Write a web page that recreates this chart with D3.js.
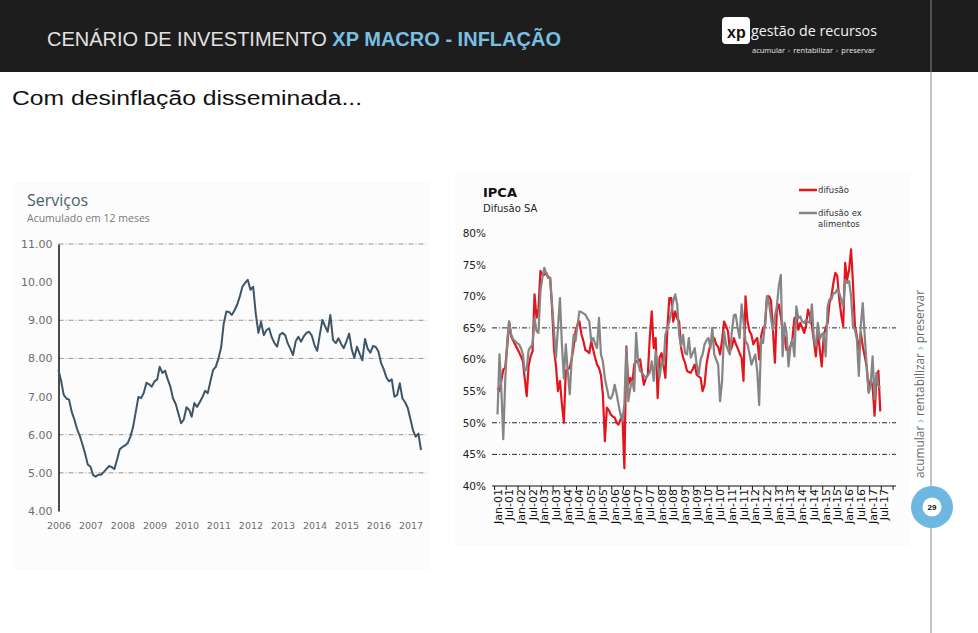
<!DOCTYPE html>
<html>
<head>
<meta charset="utf-8">
<script src="https://cdn.jsdelivr.net/npm/d3@7/dist/d3.min.js"></script>
<style>
  body { margin: 0; background: #fff; }
  svg { display: block; }
</style>
</head>
<body>
<svg id="chart"></svg>
<script>
const W = 978, H = 633;

// Serviços, acumulado em 12 meses (mensal, jan/2006 ->)
const servicosStart = new Date(2006, 0, 1);
const servicos = [
  7.70, 7.40, 7.05, 6.95, 6.92, 6.60, 6.40, 6.15, 5.97, 5.75, 5.50, 5.22,
  5.16, 4.94, 4.90, 4.95, 4.95, 5.02, 5.10, 5.18, 5.15, 5.10, 5.35, 5.62,
  5.68, 5.72, 5.78, 5.95, 6.20, 6.60, 6.99, 6.96, 7.10, 7.36, 7.32, 7.26,
  7.40, 7.45, 7.78, 7.62, 7.68, 7.45, 7.26, 6.95, 6.80, 6.55, 6.30, 6.40,
  6.72, 6.65, 6.47, 6.83, 6.73, 6.85, 6.98, 7.15, 7.09, 7.40, 7.70, 7.78,
  8.00, 8.30, 8.90, 9.23, 9.22, 9.14, 9.25, 9.40, 9.62, 9.88, 9.98, 10.06,
  9.80, 9.88, 9.19, 8.67, 8.96, 8.61, 8.74, 8.79, 8.55, 8.40, 8.31, 8.62,
  8.67, 8.61, 8.40, 8.25, 8.09, 8.45, 8.57, 8.44, 8.58, 8.67, 8.70, 8.60,
  8.35, 8.20, 8.60, 9.01, 8.85, 8.70, 9.14, 8.48, 8.40, 8.53, 8.38, 8.27,
  8.45, 8.65, 8.25, 8.01, 8.31, 8.12, 7.95, 8.51, 8.25, 8.15, 8.33, 8.30,
  8.18, 7.87, 7.72, 7.50, 7.40, 7.45, 7.00, 7.04, 7.35, 6.95, 6.85, 6.70,
  6.40, 6.10, 5.95, 6.03, 5.60
];
const servicosTicks = [4, 5, 6, 7, 8, 9, 10, 11];
const servicosGrid = [5, 6, 8, 9, 11];

// IPCA difusão SA (mensal, jan/2001 ->)
const ipcaStart = new Date(2001, 0, 1);
const difusao = [
  55.5, 55.0, 56.6, 58.4, 58.7, 62.0, 66.0, 63.7, 63.0, 62.4, 61.8, 61.2,
  60.5, 59.7, 57.0, 54.2, 59.0, 60.5, 61.3, 70.3, 66.6, 68.0, 74.0, 73.4,
  73.4, 73.7, 73.0, 72.9, 68.2, 61.5, 59.0, 55.0, 56.6, 53.0, 50.0, 58.2,
  58.5, 58.7, 60.0, 62.0, 64.5, 65.5, 66.0, 64.0, 62.9, 61.5, 61.3, 61.0,
  62.9, 61.5, 60.3, 59.2, 58.7, 57.5, 54.5, 47.1, 52.4, 52.0, 51.3, 51.0,
  50.8, 50.0, 49.7, 50.5, 51.3, 42.8, 62.0, 56.0, 57.1, 56.0, 59.2, 59.7,
  59.8, 60.0, 58.0, 56.0, 57.0, 57.6, 63.4, 67.6, 61.8, 63.4, 53.9, 60.3,
  61.0, 59.0, 57.1, 65.0, 69.7, 69.7, 66.0, 67.6, 66.5, 66.0, 61.8, 60.3,
  59.5, 58.2, 58.0, 57.9, 58.5, 59.2, 57.6, 57.3, 57.1, 55.0, 56.0, 59.2,
  61.0, 62.4, 63.0, 63.4, 62.4, 62.0, 60.8, 63.0, 66.0, 65.3, 64.5, 61.3,
  62.0, 63.4, 62.5, 61.8, 61.0, 60.3, 56.6, 70.0, 66.0, 64.5, 63.9, 62.4,
  63.0, 63.4, 60.0, 63.7, 65.0, 65.3, 70.0, 70.0, 69.3, 64.7, 59.5, 67.8,
  68.7, 66.8, 64.7, 63.7, 61.5, 61.5, 62.1, 63.2, 66.5, 66.8, 64.7, 65.8,
  65.0, 64.2, 65.3, 67.9, 66.8, 65.3, 63.0, 60.5, 64.7, 61.6, 58.9, 63.7,
  65.0, 65.8, 68.9, 70.0, 72.1, 73.7, 73.2, 69.5, 67.0, 65.3, 75.3, 72.6,
  74.2, 77.4, 72.1, 65.3, 63.7, 61.6, 64.2, 62.1, 60.5, 58.9, 55.0, 56.8,
  55.8, 51.1, 56.8, 58.2, 51.8
];
const difusaoExAlimentos = [
  51.3, 60.8, 55.5, 47.4, 56.6, 63.0, 66.0, 64.0, 63.2, 62.9, 62.6, 62.4,
  61.8, 60.8, 58.2, 58.5, 61.5, 62.0, 62.4, 66.6, 64.5, 64.2, 70.8, 72.9,
  74.5, 73.5, 72.9, 72.9, 68.7, 64.5, 60.3, 65.0, 69.7, 62.5, 57.0, 62.4,
  58.0, 54.5, 60.0, 63.9, 62.9, 65.5, 67.6, 67.5, 67.3, 67.1, 66.5, 66.0,
  62.9, 63.4, 62.5, 61.8, 66.6, 60.8, 59.7, 57.0, 55.5, 54.0, 53.8, 54.5,
  56.0, 54.5, 52.9, 51.3, 50.3, 53.0, 62.1, 53.4, 55.5, 56.6, 55.0, 64.2,
  59.5, 58.2, 57.9, 57.5, 57.1, 57.5, 57.9, 59.7, 56.6, 61.3, 59.0, 57.1,
  59.7, 59.2, 63.9, 65.0, 66.0, 67.5, 69.2, 70.3, 68.7, 63.9, 62.1, 63.9,
  61.0, 60.8, 63.4, 60.3, 61.0, 61.8, 59.2, 57.6, 60.0, 60.8, 62.4, 63.0,
  63.4, 61.8, 65.0, 60.8, 60.0, 59.2, 53.4, 56.6, 64.5, 62.4, 61.5, 60.8,
  64.5, 67.0, 67.1, 65.0, 63.4, 68.7, 66.0, 62.9, 62.4, 61.0, 59.2, 60.0,
  60.8, 58.0, 52.8, 63.3, 62.6, 66.0, 70.0, 69.0, 66.5, 64.7, 66.8, 68.4,
  71.6, 73.4, 60.5, 65.8, 64.2, 58.9, 62.0, 63.2, 60.5, 68.4, 66.5, 66.8,
  66.0, 65.8, 66.3, 66.0, 65.8, 68.7, 63.2, 62.1, 65.8, 63.2, 64.0, 64.2,
  60.5, 68.4, 69.5, 69.5, 70.5, 70.5, 71.1, 70.5, 69.5, 68.4, 72.6, 72.1,
  72.4, 70.0, 65.3, 64.7, 63.2, 57.4, 65.3, 68.9, 63.7, 58.9, 54.7, 55.8,
  60.5, 53.7, 57.9, 55.8, 55.5
];
const ipcaTicks = [40, 45, 50, 55, 60, 65, 70, 75, 80];
const ipcaGrid = [45, 50, 65];
const legendLabels = [["difusão"], ["difusão ex", "alimentos"]];
const tagWords = ["acumular", "›", "rentabilizar", "›", "preservar"];

const svg = d3.select("#chart")
  .attr("width", W)
  .attr("height", H)
  .attr("viewBox", `0 0 ${W} ${H}`);

// ---------- header ----------
svg.append("rect").attr("x", 0).attr("y", 0).attr("width", W).attr("height", 72).attr("fill", "#1d1d1d");

const head = svg.append("text")
  .attr("x", 47).attr("y", 46)
  .attr("font-family", "Liberation Sans, Arial, sans-serif")
  .attr("font-size", 20)
  .attr("textLength", 514).attr("lengthAdjust", "spacingAndGlyphs");
head.append("tspan").attr("fill", "#e2e2e2").text("CENÁRIO DE INVESTIMENTO ");
head.append("tspan").attr("fill", "#79bfe2").attr("font-weight", "bold").text("XP MACRO - INFLAÇÃO");

// logo
svg.append("rect").attr("x", 722).attr("y", 17).attr("width", 28).attr("height", 27).attr("rx", 4).attr("fill", "#fff");
svg.append("text").attr("x", 727).attr("y", 38)
  .attr("font-family", "Liberation Sans, Arial, sans-serif").attr("font-weight", "bold")
  .attr("font-size", 16).attr("fill", "#111").text("xp");
svg.append("text").attr("x", 751).attr("y", 36)
  .attr("font-family", "Open Sans, sans-serif").attr("font-size", 14).attr("fill", "#f2f2f2")
  .attr("textLength", 126).attr("lengthAdjust", "spacingAndGlyphs")
  .text("gestão de recursos");

// tagline pieces laid out one after another, measured
const tagG = svg.append("g");
let tx = 752;
tagWords.forEach(w => {
  const t = tagG.append("text")
    .attr("x", tx).attr("y", 53)
    .attr("font-family", "Open Sans, sans-serif").attr("font-size", 7.5)
    .attr("fill", w === "›" ? "#79bfe2" : "#e8e8e8")
    .text(w);
  tx += t.node().getComputedTextLength() + 3;
});

// subtitle
svg.append("text").attr("x", 12).attr("y", 105)
  .attr("font-family", "Liberation Sans, Arial, sans-serif").attr("font-size", 20).attr("fill", "#111")
  .attr("textLength", 350).attr("lengthAdjust", "spacingAndGlyphs")
  .text("Com desinflação disseminada...");

// right side vertical rule + tagline + page number
svg.append("line").attr("x1", 931).attr("x2", 931).attr("y1", 0).attr("y2", H)
  .attr("stroke", "#8a8a8a").attr("stroke-width", 1);

const vt = svg.append("text")
  .attr("transform", "translate(924,478) rotate(-90)")
  .attr("font-family", "Open Sans, sans-serif").attr("font-size", 13).attr("fill", "#6a6a6a")
  .attr("textLength", 188).attr("lengthAdjust", "spacingAndGlyphs");
tagWords.forEach((w, i) => {
  vt.append("tspan")
    .attr("fill", w === "›" ? "#6cb8e0" : "#6a6a6a")
    .text((i ? " " : "") + w);
});

svg.append("circle").attr("cx", 932).attr("cy", 507).attr("r", 21).attr("fill", "#6db7e0");
svg.append("circle").attr("cx", 932).attr("cy", 507).attr("r", 9.5).attr("fill", "#fff");
svg.append("text").attr("x", 932).attr("y", 510).attr("text-anchor", "middle")
  .attr("font-family", "Liberation Sans, Arial, sans-serif").attr("font-size", 8).attr("font-weight", "bold")
  .attr("fill", "#111").text("29");

// ---------- left chart: Serviços ----------
svg.append("rect").attr("x", 14).attr("y", 182).attr("width", 416).attr("height", 388).attr("fill", "#fcfcfc");

svg.append("text").attr("x", 27).attr("y", 206)
  .attr("font-family", "Open Sans, sans-serif").attr("font-size", 16).attr("fill", "#4a5f6e")
  .text("Serviços");
svg.append("text").attr("x", 27).attr("y", 222)
  .attr("font-family", "Open Sans, sans-serif").attr("font-size", 10.5).attr("fill", "#7a7a7a")
  .text("Acumulado em 12 meses");

const xS = d3.scaleTime()
  .domain([new Date(2006, 0, 1), new Date(2017, 0, 1)])
  .range([58.5, 410.5]);
const yS = d3.scaleLinear().domain([4, 11]).range([511, 244]);

const gl = svg.append("g");

gl.selectAll(".grid-s")
  .data(servicosGrid)
  .enter().append("line")
  .attr("x1", 58.5).attr("x2", 426)
  .attr("y1", d => yS(d)).attr("y2", d => yS(d))
  .attr("stroke", "#8a8a8a").attr("stroke-width", 0.9)
  .attr("stroke-dasharray", "5,2,1,2");

const yAxisS = gl.append("g")
  .attr("transform", "translate(58.5,0)")
  .call(d3.axisLeft(yS).tickValues(servicosTicks).tickSize(0).tickPadding(6).tickFormat(d3.format(".2f")));
yAxisS.select(".domain").attr("stroke", "#111").attr("stroke-width", 1.5);
yAxisS.selectAll("text").attr("font-family", "DejaVu Sans, sans-serif").attr("font-size", 11).attr("fill", "#6e6e6e");

const xAxisS = gl.append("g")
  .attr("transform", "translate(0,511)")
  .call(d3.axisBottom(xS).ticks(d3.timeYear.every(1)).tickSize(0).tickPadding(11).tickFormat(d3.timeFormat("%Y")));
xAxisS.select(".domain").remove();
xAxisS.selectAll("text").attr("font-family", "DejaVu Sans, sans-serif").attr("font-size", 9.5).attr("fill", "#6e6e6e");

const lineS = d3.line()
  .x((d, i) => xS(d3.timeMonth.offset(servicosStart, i)))
  .y(d => yS(d));

gl.append("path")
  .datum(servicos)
  .attr("d", lineS)
  .attr("fill", "none")
  .attr("stroke", "#3e5568")
  .attr("stroke-width", 2)
  .attr("stroke-linejoin", "round");

// ---------- right chart: IPCA difusão ----------
svg.append("rect").attr("x", 455).attr("y", 172).attr("width", 455).attr("height", 374).attr("fill", "#fcfcfc");

svg.append("text").attr("x", 483).attr("y", 197)
  .attr("font-family", "DejaVu Sans, sans-serif").attr("font-weight", "bold").attr("font-size", 13)
  .attr("fill", "#111").text("IPCA");
svg.append("text").attr("x", 483).attr("y", 212)
  .attr("font-family", "DejaVu Sans, sans-serif").attr("font-size", 10)
  .attr("fill", "#222").text("Difusão SA");

const xR = d3.scaleTime()
  .domain([new Date(2001, 0, 1), new Date(2017, 6, 1)])
  .range([497.5, 884.2]);
const yR = d3.scaleLinear().domain([40, 80]).range([486, 233]);
const step = (xR(new Date(2001, 6, 1)) - xR(new Date(2001, 0, 1))) / 2;

const gr = svg.append("g");

gr.selectAll(".grid-r")
  .data(ipcaGrid)
  .enter().append("line")
  .attr("x1", 492).attr("x2", 896)
  .attr("y1", d => yR(d)).attr("y2", d => yR(d))
  .attr("stroke", "#111").attr("stroke-width", 0.9)
  .attr("stroke-dasharray", "5,2,1,2");

const yAxisR = gr.append("g")
  .attr("transform", "translate(489,0)")
  .call(d3.axisLeft(yR).tickValues(ipcaTicks).tickSize(0).tickPadding(3).tickFormat(d => d + "%"));
yAxisR.select(".domain").remove();
yAxisR.selectAll("text").attr("font-family", "DejaVu Sans, sans-serif").attr("font-size", 10.5).attr("fill", "#222");

const labelDates = d3.timeMonth.range(new Date(2001, 0, 1), new Date(2017, 7, 1), 6);

gr.append("line")
  .attr("x1", 492).attr("x2", 896)
  .attr("y1", yR(40)).attr("y2", yR(40))
  .attr("stroke", "#111").attr("stroke-width", 1);

gr.selectAll(".tick-r")
  .data(labelDates.concat([new Date(2018, 0, 1)]))
  .enter().append("line")
  .attr("x1", d => xR(d) - step / 2).attr("x2", d => xR(d) - step / 2)
  .attr("y1", yR(40)).attr("y2", yR(40) + 4)
  .attr("stroke", "#111").attr("stroke-width", 1);

const fmt = d3.timeFormat("%b-%y");
gr.selectAll(".xl-r")
  .data(labelDates)
  .enter().append("text")
  .attr("transform", d => `translate(${xR(d) + 4},${yR(40) + 3}) rotate(-90)`)
  .attr("text-anchor", "end")
  .attr("font-family", "DejaVu Sans, sans-serif").attr("font-size", 11)
  .attr("fill", "#111")
  .text(d => fmt(d));

const lineR = d3.line()
  .x((d, i) => xR(d3.timeMonth.offset(ipcaStart, i)))
  .y(d => yR(d));

const seriesR = [
  { values: difusao, color: "#e3141b" },
  { values: difusaoExAlimentos, color: "#858585" }
];

gr.selectAll(".series-r")
  .data(seriesR)
  .enter().append("path")
  .attr("d", d => lineR(d.values))
  .attr("fill", "none")
  .attr("stroke", d => d.color)
  .attr("stroke-width", 2.2)
  .attr("stroke-linejoin", "round");

// legend
const leg = gr.selectAll(".leg")
  .data(seriesR.map((s, i) => ({ color: s.color, lines: legendLabels[i] })))
  .enter().append("g")
  .attr("transform", (d, i) => `translate(799,${190 + i * 23})`);
leg.append("line")
  .attr("x1", 0).attr("x2", 18).attr("y1", 0).attr("y2", 0)
  .attr("stroke", d => d.color).attr("stroke-width", 2.5);
leg.append("text")
  .attr("x", 19).attr("y", 3)
  .attr("font-family", "DejaVu Sans, sans-serif").attr("font-size", 8.5).attr("fill", "#333")
  .selectAll("tspan")
  .data(d => d.lines)
  .enter().append("tspan")
  .attr("x", 19)
  .attr("dy", (d, i) => i === 0 ? 0 : 10.5)
  .text(d => d);
</script>
</body>
</html>
